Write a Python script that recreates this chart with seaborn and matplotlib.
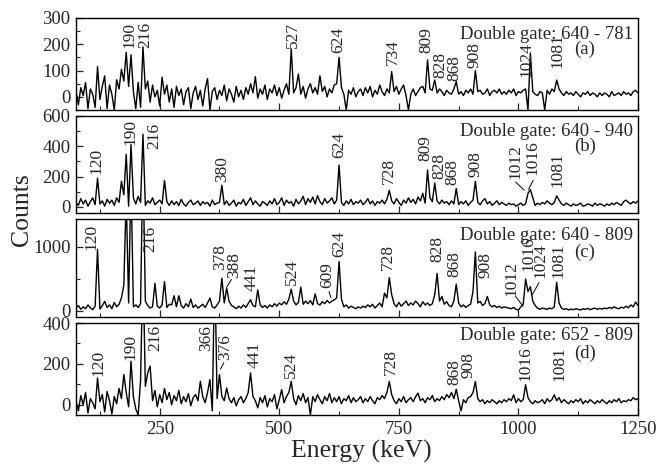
import matplotlib
matplotlib.use('Agg')
import matplotlib.pyplot as plt
import seaborn as sns
import numpy as np
import pandas as pd
from matplotlib.ticker import MultipleLocator

# energy of each channel (keV), 5 keV bins from 75 to 1250
energy = np.arange(75, 1251, 5)

# gated spectra, counts per bin
counts_a = [
    20, -30, 35, 5, 55, -45, 30, 10, -40, 115, -10, 40, 80, -45, 45, 10, -50, 65, 30, 105,
    60, 170, 40, 160, 20, -45, 55, -40, 190, 30, 60, -20, 45, 0, 25, -35, 75, 10, 45, -20,
    30, -40, 40, 5, 30, -30, 20, 35, -45, 15, 40, -10, 25, -35, 30, 70, -50, 20, 35, -10,
    25, 5, 45, -15, 30, 10, -20, 40, 0, 25, -10, 35, 10, 50, 15, 77, -5, 30, 10, 45,
    -10, 30, 15, 45, 5, 35, -5, 25, 50, 10, 182, 15, 35, 87, 10, 40, -5, 30, 50, 15,
    35, 10, 80, 20, 40, 0, 30, 15, 45, 50, 150, 35, 10, -50, 25, 10, 35, 0, 20, 30,
    5, 35, 15, 40, 0, 25, 10, 45, 20, 5, 30, 15, 96, 20, 40, 10, 30, 45, 5, -50,
    10, 30, 5, 20, 35, 40, 15, 141, 30, 25, 64, 15, 30, 20, 5, 25, 15, 10, 30, 58,
    10, 20, 5, 25, 15, 30, 10, 100, 20, 25, 10, 15, 30, 5, 20, 25, 15, 30, 10, 20,
    10, 25, 15, 30, 5, 20, 15, 25, 30, -50, 167, 20, 10, 5, 20, 15, -50, 25, 10, 30,
    20, 64, 30, 15, 5, 20, 10, 15, 5, 20, 10, 0, 15, 10, 20, 5, 15, 10, 0, 15,
    5, 15, 10, 0, 20, 5, 10, 15, 5, 20, 10, 15, 5, 20, 25, 15,
]
counts_b = [
    30, 10, 55, 20, 45, 5, 35, 60, 15, 190, 20, 40, 5, 50, 25, 45, 10, 60, 30, 170,
    80, 347, 5, 411, 60, 20, 70, 30, 480, 10, 40, 25, 60, 15, 30, 45, 20, 175, 35, 10,
    40, 15, 35, 10, 50, 20, 5, 30, 45, 15, 25, 40, 10, 35, 20, 30, 5, 45, 15, 25,
    30, 143, 15, 40, 10, 25, 45, 5, 30, 20, 50, 10, 35, 60, 15, 40, 20, 5, 35, 25,
    10, 40, 20, 55, 15, 30, 60, 10, 45, 25, 35, 5, 50, 20, 40, 70, 15, 55, 30, 65,
    20, 75, 35, 15, 55, 25, 40, 60, 20, 45, 276, 30, 10, 40, 20, 50, 15, 35, 25, 45,
    15, 30, 55, 20, 40, 10, 35, 25, 45, 20, 50, 110, 40, 20, 55, 30, 10, 45, 25, 60,
    30, 50, 20, 65, 40, 90, 25, 244, 60, 35, 158, 40, 20, 45, 25, 35, 15, 40, 20, 122,
    15, 35, 20, 40, 10, 30, 45, 169, 30, 15, 40, 55, 20, 35, 10, 25, 40, 15, 30, 20,
    10, 25, 15, 20, 5, 15, 25, 10, 20, 90, 115, 60, 10, 25, 15, 30, 20, 40, 25, 15,
    30, 73, 45, 20, 10, 25, 15, 5, 20, 10, 15, 25, 5, 10, 20, 15, 5, 25, 10, 20,
    15, 5, 20, 10, 25, 15, 30, 20, 10, 35, 45, 30, 20, 35, 25, 40,
]
counts_c = [
    40, 80, 20, 60, 30, 90, 45, 15, 70, 964, 25, 80, 145, 50, 90, 30, 130, 60, 100, 200,
    400, 1800, 120, 2100, 60, 90, 50, 110, 2400, 150, 80, 40, 60, 430, 70, 40, 90, 456, 50, 100,
    90, 234, 60, 234, 80, 40, 110, 60, 182, 50, 90, 40, 70, 100, 50, 120, 198, 60, 40, 90,
    150, 510, 120, 354, 150, 80, 60, 30, 70, 40, 90, 50, 110, 172, 80, 60, 328, 90, 50, 80,
    40, 90, 60, 110, 70, 120, 90, 140, 100, 180, 338, 150, 90, 130, 370, 100, 150, 110, 160, 90,
    265, 110, 90, 140, 110, 160, 120, 150, 170, 200, 771, 180, 60, 90, 40, 70, 50, 30, 60, 40,
    70, 50, 90, 60, 100, 40, 80, 120, 60, 275, 200, 518, 250, 110, 60, 130, 70, 110, 150, 80,
    120, 90, 150, 110, 60, 140, 90, 120, 80, 110, 250, 585, 150, 223, 100, 140, 80, 60, 150, 415,
    120, 60, 90, 50, 80, 100, 300, 922, 120, 145, 80, 110, 223, 90, 60, 80, 50, 70, 40, 60,
    50, 40, 30, 50, 20, 10, 60, 100, 497, 300, 378, 150, 80, 40, 20, 40, 30, 20, 40, 30,
    60, 445, 120, 40, 20, 30, 10, 25, 15, 30, 20, 10, 30, 20, 35, 15, 30, 40, 20, 35,
    25, 40, 30, 50, 35, 60, 40, 30, 55, 40, 70, 45, 90, 60, 135, 80,
]
counts_d = [
    20, -30, 45, 0, 60, -40, 30, 10, -20, 131, 15, 50, -35, 65, 20, -45, 40, 5, 80, 30,
    148, 60, -10, 213, 40, -20, -50, 120, 700, 90, 156, 189, 20, 70, -10, 50, 10, 80, 25, 60,
    0, 45, 20, 70, 5, 40, 15, 55, -5, 35, 50, 20, 115, 40, 10, 60, 123, -30, 700, 30,
    148, 40, 20, 82, 30, 10, 35, -5, 25, 40, 10, 30, 60, 156, 40, 20, -15, 35, 10, 45,
    -10, 30, 15, 50, -20, 25, 74, 10, 40, 60, 115, 30, 0, 45, 20, 55, 10, 35, -50, 40,
    15, 50, 25, 5, 40, 20, 55, 10, 35, 15, 40, 5, 30, 20, 45, 10, 35, 15, 25, 40,
    10, 30, 15, 40, 20, 5, 35, 25, 45, 30, 60, 114, 50, 20, 5, 30, 15, 40, 10, 25,
    35, 15, 40, 57, 20, 30, 10, 35, 25, 45, 15, 30, 20, 40, 25, 50, 35, 60, 30, 76,
    20, -30, 25, 10, 35, 40, 60, 114, 30, 15, 25, 5, 20, 10, 25, 15, 5, 20, 10, 25,
    15, 30, 20, 49, 10, 30, 15, 25, 98, 35, 15, 5, 20, 10, 15, 25, 5, 30, 15, 25,
    49, 20, 35, 10, 25, 15, 5, 20, 10, 25, 15, 30, 5, 20, 10, 25, 15, 5, 20, 10,
    25, 15, 5, 20, 10, 25, 15, 30, 10, 20, 15, 25, 20, 35, 25, 30,
]

# peak labels: text, energy of label, count at label bottom
labels_a = [("190", 187, 186), ("216", 219, 186), ("527", 529, 186), ("624", 623, 167),
            ("734", 738, 122), ("809", 807, 167), ("828", 837, 72), ("868", 866, 62),
            ("908", 908, 109), ("1024", 1016, 77), ("1081", 1082, 109)]
labels_b = [("120", 118, 218), ("190", 189, 411), ("216", 238, 379), ("380", 380, 165),
            ("624", 625, 325), ("728", 729, 154), ("809", 806, 304), ("828", 834, 186),
            ("868", 862, 143), ("908", 910, 197), ("1012", 994, 186), ("1016", 1029, 208),
            ("1081", 1082, 133)]
labels_c = [("120", 108, 950), ("216", 231, 924), ("378", 377, 640), ("388", 405, 510),
            ("441", 442, 302), ("524", 526, 406), ("609", 600, 354), ("624", 626, 849),
            ("728", 728, 637), ("828", 830, 767), ("868", 867, 534), ("908", 932, 508),
            ("1012", 986, 223), ("1016", 1022, 630), ("1024", 1047, 508), ("1081", 1083, 508)]
labels_d = [("120", 121, 139), ("190", 188, 221), ("216", 240, 262), ("366", 348, 262),
            ("376", 386, 221), ("441", 448, 180), ("524", 525, 131), ("728", 733, 148),
            ("868", 867, 98), ("908", 896, 131), ("1016", 1015, 115), ("1081", 1086, 115)]

# short pointer lines from label to peak (x0, y0, x1, y1)
leaders_b = [(994, 165, 1012, 111), (1031, 176, 1021, 116)]
leaders_c = [(390, 370, 400, 490), (604, 300, 608, 200), (994, 223, 1010, 67),
             (1043, 440, 1029, 250)]
leaders_d = [(377, 175, 384, 205)]

gates = ["Double gate: 640 - 781", "Double gate: 640 - 940",
         "Double gate: 640 - 809", "Double gate: 652 - 809"]
tags = ["(a)", "(b)", "(c)", "(d)"]

sns.set_style("ticks")
plt.rcParams['font.family'] = ['Liberation Serif', 'DejaVu Serif']

fig = plt.figure(figsize=(6.59, 4.66), dpi=100)
W, H = 659.0, 466.0
left, right = 76, 638

# panel layout in pixels (top, bottom) and axis settings
panel_px = [(18, 110), (116, 213), (219, 317), (323, 415)]
ylims = [(-50, 300), (-40, 600), (-100, 1440), (-50, 400)]
majors = [100, 200, 1000, 200]
minors = [50, 100, 500, 100]
title_y = [0.768, 0.794, 0.786, 0.815]
tag_y = [0.605, 0.642, 0.615, 0.623]

spectra = [counts_a, counts_b, counts_c, counts_d]
all_labels = [labels_a, labels_b, labels_c, labels_d]
all_leaders = [[], leaders_b, leaders_c, leaders_d]

for k in range(4):
    top, bot = panel_px[k]
    ax = fig.add_axes([left / W, 1 - bot / H, (right - left) / W, (bot - top) / H])
    df = pd.DataFrame({"E": energy, "N": spectra[k]})
    sns.lineplot(data=df, x="E", y="N", ax=ax, color="black", lw=1.0,
                 estimator=None, sort=False)
    ax.set_xlim(75, 1250)
    ax.set_ylim(*ylims[k])
    ax.set_xlabel("")
    ax.set_ylabel("")
    ax.xaxis.set_major_locator(MultipleLocator(250))
    ax.xaxis.set_minor_locator(MultipleLocator(125))
    ax.yaxis.set_major_locator(MultipleLocator(majors[k]))
    ax.yaxis.set_minor_locator(MultipleLocator(minors[k]))
    ax.tick_params(which="major", direction="in", length=5, width=0.9, labelsize=13.5, pad=4)
    ax.tick_params(which="minor", direction="in", length=3, width=0.8)
    for sp in ax.spines.values():
        sp.set_linewidth(1.0)
        sp.set_color("black")
    if k < 3:
        ax.tick_params(axis="x", labelbottom=False)

    for txt, x, y in all_labels[k]:
        ax.text(x, y, txt, rotation=90, ha="center", va="bottom", fontsize=12.5)
    for x0, y0, x1, y1 in all_leaders[k]:
        ax.plot([x0, x1], [y0, y1], color="black", lw=0.7)

    ax.text(0.991, title_y[k], gates[k], transform=ax.transAxes,
            ha="right", va="baseline", fontsize=13.5)
    ax.text(0.905, tag_y[k], tags[k], transform=ax.transAxes,
            ha="center", va="baseline", fontsize=13.5)

fig.text(0.033, 0.551, "Counts", rotation=90, ha="center", va="center", fontsize=18.5)
fig.text(0.5486, 0.017, "Energy (keV)", ha="center", va="baseline", fontsize=18.5)

fig.savefig("out.png", dpi=100)
